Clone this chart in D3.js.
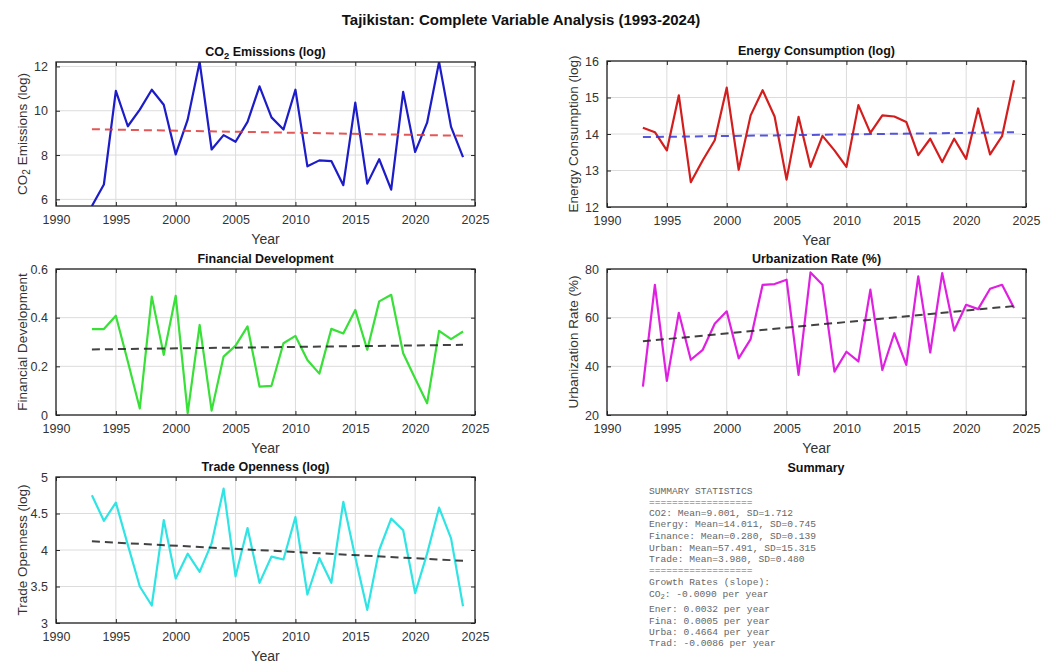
<!DOCTYPE html>
<html>
<head>
<meta charset="utf-8">
<script src="https://cdn.jsdelivr.net/npm/d3@7"></script>
<style>
  body { margin: 0; background: #fff; }
  svg text { font-family: "Liberation Sans", Arial, sans-serif; }
</style>
</head>
<body>
<div id="chart"></div>
<script>
// years 1993-2024
const years = d3.range(1993, 2025);
const co2 = [5.7, 6.67, 10.9, 9.3, 10.05, 10.95, 10.27, 8.03, 9.6, 12.2,
  8.25, 8.9, 8.6, 9.5, 11.1, 9.7, 9.15, 10.95, 7.49, 7.76,
  7.73, 6.64, 10.37, 6.71, 7.81, 6.44, 10.85, 8.14, 9.46, 12.2,
  9.27, 7.91];
const energy = [14.17, 14.05, 13.55, 15.06, 12.68, 13.28, 13.83, 15.27, 13.02, 14.51,
  15.2, 14.48, 12.75, 14.47, 13.1, 13.95, 13.55, 13.1, 14.79, 14.03,
  14.51, 14.48, 14.33, 13.42, 13.87, 13.23, 13.87, 13.32, 14.7, 13.44,
  13.94, 15.47];
const finance = [0.353, 0.353, 0.408, 0.22, 0.027, 0.487, 0.247, 0.49, 0.008, 0.37,
  0.018, 0.24, 0.285, 0.364, 0.117, 0.12, 0.295, 0.325, 0.226, 0.17,
  0.354, 0.335, 0.432, 0.268, 0.467, 0.494, 0.254, 0.15, 0.048, 0.346,
  0.312, 0.343];
const urban = [31.7, 73.5, 34, 62, 42.7, 46.8, 57.5, 62.6, 43.3, 51.2,
  73.5, 73.8, 75.6, 36.5, 78.6, 73.5, 37.8, 46, 42, 71.5,
  38.5, 53.6, 40.6, 77, 45.7, 78.3, 54.7, 65.3, 63.5, 71.9,
  73.5, 64];
const trade = [4.75, 4.4, 4.65, 4.07, 3.5, 3.24, 4.41, 3.61, 3.95, 3.7,
  4.09, 4.84, 3.64, 4.3, 3.55, 3.91, 3.87, 4.45, 3.39, 3.89,
  3.55, 4.66, 3.9, 3.18, 4.0, 4.43, 4.27, 3.41, 3.95, 4.58,
  4.16, 3.23];

const xTicks = d3.range(1990, 2026, 5);
const summaryLines = [
  "SUMMARY STATISTICS",
  "==================",
  "CO2: Mean=9.001, SD=1.712",
  "Energy: Mean=14.011, SD=0.745",
  "Finance: Mean=0.280, SD=0.139",
  "Urban: Mean=57.491, SD=15.315",
  "Trade: Mean=3.980, SD=0.480",
  "==================",
  "Growth Rates (slope):",
  "CO|2|: -0.0090 per year",
  "Ener: 0.0032 per year",
  "Fina: 0.0005 per year",
  "Urba: 0.4664 per year",
  "Trad: -0.0086 per year"
];

const width = 1042, height = 663;
const svg = d3.select("#chart").append("svg")
  .attr("width", width)
  .attr("height", height);

svg.append("text")
  .attr("x", 521).attr("y", 25)
  .attr("text-anchor", "middle")
  .attr("font-size", "15px")
  .attr("font-weight", "bold")
  .attr("fill", "#111")
  .text("Tajikistan: Complete Variable Analysis (1993-2024)");

// text with "|2|" rendered as subscript
function richText(sel, str) {
  const parts = str.split("|");
  parts.forEach((p, i) => {
    const t = sel.append("tspan").text(p);
    if (i % 2 === 1) t.attr("baseline-shift", "-30%").attr("font-size", "75%");
  });
}

function lsq(xs, ys) {
  const mx = d3.mean(xs), my = d3.mean(ys);
  const b = d3.sum(xs, (x, i) => (x - mx) * (ys[i] - my)) / d3.sum(xs, x => (x - mx) ** 2);
  return { b: b, a: my - b * mx };
}

const panels = [
  { title: "CO|2| Emissions (log)", ylabel: "CO|2| Emissions (log)", data: co2,
    x0: 56, y0: 62, w: 419, h: 144, ydom: [5.7, 12.2], yTicks: [6, 8, 10, 12],
    color: "#1c1cc8", trend: "#e03a3a" },
  { title: "Energy Consumption (log)", ylabel: "Energy Consumption (log)", data: energy,
    x0: 607, y0: 61, w: 419, h: 146, ydom: [12, 16], yTicks: [12, 13, 14, 15, 16],
    color: "#d41e1e", trend: "#3838d8" },
  { title: "Financial Development", ylabel: "Financial Development", data: finance,
    x0: 56, y0: 269, w: 419, h: 146, ydom: [0, 0.6], yTicks: [0, 0.2, 0.4, 0.6],
    color: "#38e038", trend: "#222" },
  { title: "Urbanization Rate (%)", ylabel: "Urbanization Rate (%)", data: urban,
    x0: 607, y0: 269, w: 419, h: 146, ydom: [20, 80], yTicks: [20, 40, 60, 80],
    color: "#e020e0", trend: "#222" },
  { title: "Trade Openness (log)", ylabel: "Trade Openness (log)", data: trade,
    x0: 56, y0: 477, w: 419, h: 146, ydom: [3, 5], yTicks: [3, 3.5, 4, 4.5, 5],
    color: "#30e4e4", trend: "#222" }
];

panels.forEach((p, idx) => {
  const g = svg.append("g").attr("transform", `translate(${p.x0},${p.y0})`);
  const x = d3.scaleLinear().domain([1990, 2025]).range([0, p.w]);
  const y = d3.scaleLinear().domain(p.ydom).range([p.h, 0]);

  g.append("rect").attr("width", p.w).attr("height", p.h).attr("fill", "#fff");

  // grid
  g.append("g").selectAll("line").data(xTicks).join("line")
    .attr("x1", d => x(d)).attr("x2", d => x(d))
    .attr("y1", 0).attr("y2", p.h)
    .attr("stroke", "#dcdcdc").attr("stroke-width", 1);
  g.append("g").selectAll("line").data(p.yTicks).join("line")
    .attr("y1", d => y(d)).attr("y2", d => y(d))
    .attr("x1", 0).attr("x2", p.w)
    .attr("stroke", "#dcdcdc").attr("stroke-width", 1);

  const clipId = "clip" + idx;
  g.append("clipPath").attr("id", clipId)
    .append("rect").attr("width", p.w).attr("height", p.h);

  const line = d3.line().x((d, i) => x(years[i])).y(d => y(d));
  g.append("path")
    .datum(p.data)
    .attr("clip-path", `url(#${clipId})`)
    .attr("fill", "none")
    .attr("stroke", p.color)
    .attr("stroke-width", 2.2)
    .attr("stroke-linejoin", "round")
    .attr("d", line);

  // trend
  const fit = lsq(years, p.data);
  const ends = [years[0], years[years.length - 1]];
  g.append("line")
    .attr("x1", x(ends[0])).attr("y1", y(fit.a + fit.b * ends[0]))
    .attr("x2", x(ends[1])).attr("y2", y(fit.a + fit.b * ends[1]))
    .attr("stroke", p.trend)
    .attr("stroke-width", 2)
    .attr("stroke-dasharray", "8,5")
    .attr("opacity", 0.85);

  // axes (ticks inward, box on)
  const tickLen = 4;
  const axB = g.append("g").attr("transform", `translate(0,${p.h})`)
    .call(d3.axisBottom(x).tickValues(xTicks).tickFormat(d3.format("d")).tickSizeInner(-tickLen).tickSizeOuter(0).tickPadding(9));
  const axT = g.append("g")
    .call(d3.axisTop(x).tickValues(xTicks).tickFormat("").tickSizeInner(-tickLen).tickSizeOuter(0));
  const axL = g.append("g")
    .call(d3.axisLeft(y).tickValues(p.yTicks).tickFormat(d3.format("~g")).tickSizeInner(-tickLen).tickSizeOuter(0).tickPadding(8));
  const axR = g.append("g").attr("transform", `translate(${p.w},0)`)
    .call(d3.axisRight(y).tickValues(p.yTicks).tickFormat("").tickSizeInner(-tickLen).tickSizeOuter(0));
  [axB, axT, axL, axR].forEach(a => {
    a.select(".domain").remove();
    a.selectAll("line").attr("stroke", "#262626");
    a.selectAll("text").attr("font-size", "12.5px").attr("fill", "#333")
      .attr("font-family", "Liberation Sans, Arial, sans-serif");
  });
  g.append("rect").attr("width", p.w).attr("height", p.h)
    .attr("fill", "none").attr("stroke", "#262626").attr("stroke-width", 1.3);

  // title
  const t = g.append("text")
    .attr("x", p.w / 2).attr("y", -6)
    .attr("text-anchor", "middle")
    .attr("font-size", "12.5px").attr("font-weight", "bold").attr("fill", "#111");
  richText(t, p.title);

  // x label
  g.append("text")
    .attr("x", p.w / 2).attr("y", p.h + 38)
    .attr("text-anchor", "middle")
    .attr("font-size", "14px").attr("fill", "#333")
    .text("Year");

  // y label
  const yl = g.append("text")
    .attr("transform", `translate(${-29},${p.h / 2}) rotate(-90)`)
    .attr("text-anchor", "middle")
    .attr("font-size", "13.5px").attr("fill", "#333");
  richText(yl, p.ylabel);
});

// summary panel
svg.append("text")
  .attr("x", 816).attr("y", 472)
  .attr("text-anchor", "middle")
  .attr("font-size", "12.5px").attr("font-weight", "bold").attr("fill", "#111")
  .text("Summary");

const lineY = [490, 501.7, 512.3, 523.3, 535, 547.3, 558.7, 569.3, 581.7, 593.3, 608.3, 620, 631.7, 642.7];
const sumG = svg.append("g");
summaryLines.forEach((s, i) => {
  const t = sumG.append("text")
    .attr("x", 649).attr("y", lineY[i] + 3.5)
    .attr("font-family", "Liberation Mono, Courier New, monospace")
    .attr("font-size", "9.6px")
    .attr("fill", "#666");
  richText(t, s);
  t.selectAll("tspan").attr("font-family", "Liberation Mono, Courier New, monospace");
});
</script>
</body>
</html>
